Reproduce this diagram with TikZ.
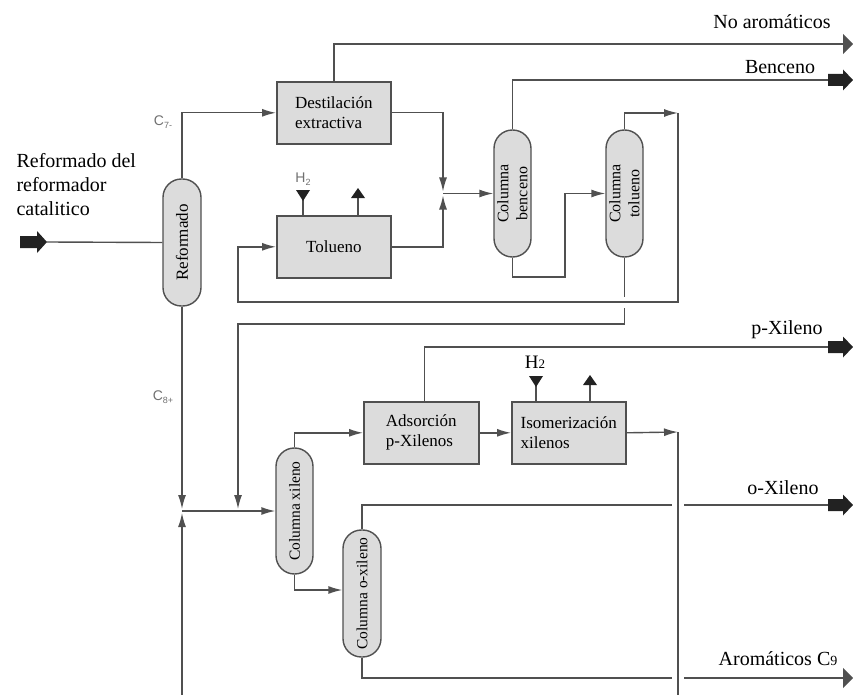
\documentclass[tikz,border=0pt]{standalone}
\usepackage{fontspec}
\setmainfont{Liberation Serif}
\newfontfamily\labsans{Liberation Sans}
\usetikzlibrary{arrows.meta}
\definecolor{lc}{HTML}{505050}
\definecolor{bf}{HTML}{DCDCDC}
\definecolor{fa}{HTML}{222222}
\definecolor{gl}{HTML}{707070}
\begin{document}
\begin{tikzpicture}[x=1pt,y=-1pt,
  ln/.style={draw=lc,line width=1.4pt},
  tip/.style={-{Latex[length=14pt,width=8pt]}},
  bigtip/.style={-{Triangle[length=10pt,width=20pt]}},
  box/.style={draw=lc,fill=bf,line width=1.6pt,minimum width=114pt,minimum height=62pt,anchor=north west,inner sep=0pt,align=left,font=\fontsize{17}{20}\selectfont},
  col/.style={draw=lc,fill=bf,line width=1.4pt,rounded corners=18.4pt,minimum width=37pt,minimum height=127pt,inner sep=0pt},
  coltext/.style={rotate=90,align=center,font=\fontsize{16}{19}\selectfont},
  big/.style={font=\fontsize{20}{24}\selectfont},
  small/.style={font=\labsans\fontsize{14}{16}\selectfont,text=gl},
  fatarrow/.style={fill=fa}
]
\useasboundingbox (0,0) rectangle (853,695);

% boxes
\node[box] (dest) at (276,81) {Destilación\\extractiva};
\node[box] (tolb) at (276,215) {Tolueno};
\node[box,minimum width=115pt] (ads) at (363,401) {Adsorción\\p-Xilenos};
\node[box] (iso) at (511,401) {Isomerización\\xilenos};

% columns
\node[col,minimum width=38pt] (ref) at (182,242.5) {};
\node[coltext,font=\fontsize{17}{20}\selectfont] (refT) at (ref) {Reformado};
\node[col] (ben) at (512.5,193.5) {};
\node[coltext] (benT) at (ben) {Columna\\benceno};
\node[col] (tol) at (624.5,193.5) {};
\node[coltext] (tolT) at (tol) {Columna\\tolueno};
\node[col,minimum height=126pt] (xil) at (294.5,511) {};
\node[coltext,font=\fontsize{15.5}{18}\selectfont] (xilT) at (xil) {Columna xileno};
\node[col,minimum width=38pt] (oxi) at (362,593.5) {};
\node[coltext,font=\fontsize{15.5}{18}\selectfont] (oxiT) at (oxi) {Columna o-xileno};

% labels
\node[big,align=left,anchor=north west] (feed) at (13,150) {Reformado del\\reformador\\catalitico};
\node[big] (lnoa) at (772,22) {No aromáticos};
\node[big] (lben) at (780,67) {Benceno};
\node[big] (lpx) at (787,330) {p-Xileno};
\node[big] (lox) at (783,488) {o-Xileno};
\node[big] (lc9) at (778,659) {Aromáticos C{\fontsize{14}{14}\selectfont 9}};
\node[small] (c7) at (163,122) {C\raisebox{-2.5pt}{\fontsize{9}{9}\selectfont 7-}};
\node[small] (c8) at (163,397) {C\raisebox{-2.5pt}{\fontsize{9}{9}\selectfont 8+}};
\node[small] (h2a) at (303,179) {H\raisebox{-2.5pt}{\fontsize{9}{9}\selectfont 2}};
\node[font=\fontsize{19}{20}\selectfont] (h2b) at (535,362) {H{\fontsize{13}{13}\selectfont 2}};

% coordinates
\coordinate (in0) at (20,242);
\coordinate (in1) at (47,242);
\coordinate (noa) at (853,44);
\coordinate (j1) at (443,193.5);
\coordinate (j1a) at (443,191.5);
\coordinate (j1b) at (443,195.5);
\coordinate (bo) at (828,80);
\coordinate (k1) at (565,277);
\coordinate (r1) at (678,113);
\coordinate (r2) at (678,302);
\coordinate (r3) at (238,302);
\coordinate (g1) at (624.5,297);
\coordinate (g2) at (624.5,308);
\coordinate (r4) at (624.5,324);
\coordinate (r5) at (238,324);
\coordinate (r6) at (238,509);
\coordinate (j2) at (182,511);
\coordinate (j2a) at (182,509);
\coordinate (j2b) at (182,513);
\coordinate (b1) at (182,695);
\coordinate (po) at (828,347);
\coordinate (r7) at (678,432);
\coordinate (b2) at (678,695);
\coordinate (o1) at (672,505);
\coordinate (o2) at (684,505);
\coordinate (oo) at (828,505);
\coordinate (a1) at (672,678);
\coordinate (a2) at (684,678);
\coordinate (ao) at (853,678);

% fat arrows
\fill[fatarrow,shift={(in0)}] (0,-6) -- (17,-6) -- (17,-11) -- (27,0) -- (17,11) -- (17,6) -- (0,6) -- cycle;
\foreach \p in {bo,po,oo}{
  \fill[fatarrow,shift={(\p)}] (0,-6) -- (15,-6) -- (15,-10.5) -- (25,0) -- (15,10.5) -- (15,6) -- (0,6) -- cycle;
}

% connectors
\draw[ln] (in1) -- (ref.west);
\draw[ln,tip] (ref.north) |- (dest.west);
\draw[ln,bigtip] (dest.north) |- (noa);
\draw[ln,tip] (dest.east) -| (j1a);
\draw[ln,tip] (tolb.east) -| (j1b);
\draw[ln,tip] (j1) -- (ben.west);
\draw[ln] (ben.north) |- (bo);
\draw[ln,tip] (ben.south) |- (k1) |- (tol.west);
\draw[ln,tip] (tol.north) |- (r1);
\draw[ln,tip] (r1) -- (r2) -- (r3) |- (tolb.west);
\draw[ln] (tol.south) -- (g1);
\draw[ln,tip] (g2) -- (r4) -- (r5) -- (r6);
\draw[ln,tip] (ref.south) -- (j2a);
\draw[ln,tip] (b1) -- (j2b);
\draw[ln,tip] (j2) -- (xil.west);
\draw[ln,tip] (xil.north) |- (ads.west);
\draw[ln] ([xshift=3pt]ads.north) |- (po);
\draw[ln,tip] (ads.east) -- (iso.west);
\draw[ln,tip] (iso.east) -- (r7);
\draw[ln] (r7) -- (b2);
\draw[ln] (oxi.north) |- (o1);
\draw[ln] (o2) -- (oo);
\draw[ln,tip] (xil.south) |- ([yshift=3.5pt]oxi.west);
\draw[ln] (oxi.south) |- (a1);
\draw[ln,bigtip] (a2) -- (ao);

% H2 feeds and vents
\coordinate (t1) at (303,215);
\coordinate (t1e) at (303,199);
\coordinate (t2) at (358,215);
\coordinate (t2e) at (358,197);
\draw[ln] (t1) -- (t1e);
\fill[fa] (296,190) -- (310,190) -- (303,201) -- cycle;
\draw[ln] (t2) -- (t2e);
\fill[fa] (351,198) -- (365,198) -- (358,188) -- cycle;
\coordinate (s1) at (536,401);
\coordinate (s1e) at (536,386);
\coordinate (s2) at (590,401);
\coordinate (s2e) at (590,385);
\draw[ln] (s1) -- (s1e);
\fill[fa] (529,376) -- (543,376) -- (536,387) -- cycle;
\draw[ln] (s2) -- (s2e);
\fill[fa] (583,385) -- (597,385) -- (590,375) -- cycle;
\end{tikzpicture}
\end{document}
